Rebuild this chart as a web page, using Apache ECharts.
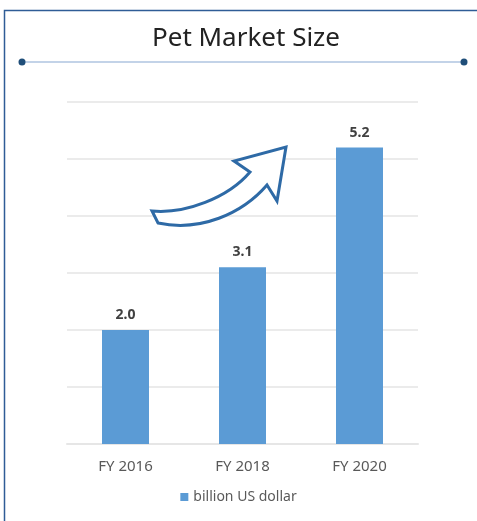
<!DOCTYPE html>
<html>
<head>
<meta charset="utf-8">
<script src="https://cdn.jsdelivr.net/npm/echarts@6/dist/echarts.min.js"></script>
<style>
	html, body { margin: 0; padding: 0; background: #fff; }
	#chart { width: 477px; height: 521px; }
</style>
</head>
<body>
<div id="chart"></div>
<script>
// data
const categories = ['FY 2016', 'FY 2018', 'FY 2020']
const marketSize = [2.0, 3.1, 5.2]
const seriesName = 'billion US dollar'

// curved arrow decoration
const ArrowShape = echarts.graphic.extendPath(
	'M 152 211 C 185 214 228 198 250 172 L 234 161 L 286 147 L 277 201 L 267 185 C 242 214 200 232 158 223 Z'
)
echarts.graphic.registerShape('curvedArrow', ArrowShape)

const chart = echarts.init(document.getElementById('chart'))
const font = '"Noto Sans", "Open Sans", sans-serif'

chart.setOption({
	animation: false,
	textStyle: { fontFamily: font },
	title: {
		text: 'Pet Market Size',
		left: 147,
		top: 21,
		textStyle: { fontSize: 26, fontWeight: 'normal', color: '#222', fontFamily: font },
	},
	legend: {
		bottom: 12,
		left: 'center',
		itemWidth: 8,
		itemHeight: 8,
		icon: 'rect',
		itemGap: 6,
		textStyle: { fontSize: 14, color: '#595959' },
		data: [seriesName],
	},
	grid: { left: 67, right: 59, top: 102, bottom: 77 },
	xAxis: {
		type: 'category',
		data: categories,
		axisLine: { lineStyle: { color: '#e6e6e6', width: 2 } },
		axisTick: { show: false },
		axisLabel: { fontSize: 15, color: '#595959', margin: 15 },
	},
	yAxis: {
		type: 'value',
		min: 0,
		max: 6,
		interval: 1,
		axisLabel: { show: false },
		axisLine: { show: false },
		axisTick: { show: false },
		splitLine: { lineStyle: { color: '#ebebeb', width: 2 } },
	},
	series: [
		{
			name: seriesName,
			type: 'bar',
			data: marketSize,
			barWidth: 47,
			itemStyle: { color: '#5b9bd5' },
			label: {
				show: true,
				position: 'top',
				distance: 8,
				fontSize: 14,
				fontWeight: 'bold',
				color: '#404040',
				formatter: (p) => p.value.toFixed(1),
			},
		},
	],
	graphic: [
		// outer frame
		{
			type: 'rect',
			shape: { x: 4.5, y: 10.5, width: 500, height: 540 },
			style: { fill: 'none', stroke: '#2f5c96', lineWidth: 1.5 },
			silent: true,
		},
		// title rule
		{
			type: 'line',
			shape: { x1: 22, y1: 62, x2: 464, y2: 62 },
			style: { stroke: '#c3d3e8', lineWidth: 2 },
		},
		{ type: 'circle', shape: { cx: 22, cy: 62, r: 3.5 }, style: { fill: '#1f4e79' } },
		{ type: 'circle', shape: { cx: 464, cy: 62, r: 3.5 }, style: { fill: '#1f4e79' } },
		{
			type: 'curvedArrow',
			style: { fill: '#fff', stroke: '#2e6aa6', lineWidth: 3, lineJoin: 'miter' },
			z: 10,
		},
	],
})
</script>
</body>
</html>
